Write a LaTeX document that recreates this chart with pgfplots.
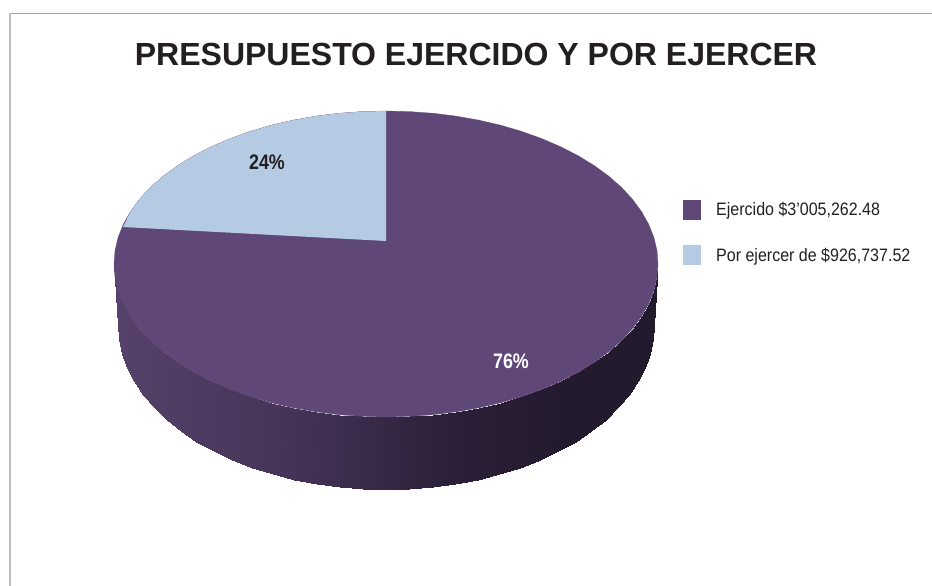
\documentclass[border=0pt]{standalone}
\usepackage{pgfplots}
\pgfplotsset{compat=1.18}
\usepackage{fontspec}
\setmainfont{Liberation Sans}
\definecolor{ejer}{RGB}{95,72,119}
\definecolor{porej}{RGB}{181,203,228}
\definecolor{ink}{RGB}{35,31,32}
\pgfplotstableread{
x y z
658 264 0
657 277.3 0
653.9 290.6 0
648.7 303.6 0
641.6 316.3 0
632.5 328.7 0
621.6 340.5 0
608.8 351.8 0
594.4 362.3 0
578.3 372.2 0
560.8 381.2 0
542 389.3 0
522 396.5 0
501 402.7 0
479 407.8 0
456.4 411.8 0
433.2 414.7 0
409.7 416.4 0
386 417 0
362.3 416.4 0
338.8 414.7 0
315.6 411.8 0
293 407.8 0
271 402.7 0
250 396.5 0
230 389.3 0
211.2 381.2 0
193.7 372.2 0
177.6 362.3 0
163.2 351.8 0
150.4 340.5 0
139.5 328.7 0
130.4 316.3 0
123.3 303.6 0
118.1 290.6 0
115 277.3 0
114 264 0
115 250.7 0
118.1 237.4 0
123.3 224.4 0
130.4 211.7 0
139.5 199.3 0
150.4 187.5 0
163.2 176.2 0
177.6 165.7 0
193.7 155.8 0
211.2 146.8 0
230 138.7 0
250 131.5 0
271 125.3 0
293 120.2 0
315.6 116.2 0
338.8 113.3 0
362.3 111.6 0
386 111 0
409.7 111.6 0
433.2 113.3 0
456.4 116.2 0
479 120.2 0
501 125.3 0
522 131.5 0
542 138.7 0
560.8 146.8 0
578.3 155.8 0
594.4 165.7 0
608.8 176.2 0
621.6 187.5 0
632.5 199.3 0
641.6 211.7 0
648.7 224.4 0
653.9 237.4 0
657 250.7 0
}\topface
\pgfplotstableread{
x y z
386 241 0
386 111 0
362.3 111.6 0
338.8 113.3 0
315.6 116.2 0
293 120.2 0
271 125.3 0
250 131.5 0
230 138.7 0
211.2 146.8 0
193.7 155.8 0
177.6 165.7 0
163.2 176.2 0
150.4 187.5 0
139.5 199.3 0
130.4 211.7 0
123 227 0
}\blueslice
\pgfplotstableread{
x y z
114 264 0
118 325 0
115 277.3 0
119 339.4 0
118.1 290.6 0
122.1 353.7 0
123.3 303.6 0
127.1 367.7 0
130.4 316.3 0
134.2 381.4 0
139.5 328.7 0
143.1 394.7 0
150.4 340.5 0
153.9 407.5 0
163.2 351.8 0
166.5 419.6 0
177.6 362.3 0
180.7 431.1 0
193.7 372.2 0
196.5 441.7 0
211.2 381.2 0
213.7 451.4 0
230 389.3 0
232.3 460.2 0
250 396.5 0
252 467.9 0
271 402.7 0
272.7 474.5 0
293 407.8 0
294.3 480 0
315.6 411.8 0
316.6 484.4 0
338.8 414.7 0
339.5 487.5 0
362.3 416.4 0
362.6 489.4 0
386 417 0
386 490 0
409.7 416.4 0
409.4 489.4 0
433.2 414.7 0
432.5 487.5 0
456.4 411.8 0
455.4 484.4 0
479 407.8 0
477.7 480 0
501 402.7 0
499.3 474.5 0
522 396.5 0
520 467.9 0
542 389.3 0
539.7 460.2 0
560.8 381.2 0
558.3 451.4 0
578.3 372.2 0
575.5 441.7 0
594.4 362.3 0
591.3 431.1 0
608.8 351.8 0
605.5 419.6 0
621.6 340.5 0
618.1 407.5 0
632.5 328.7 0
628.9 394.7 0
641.6 316.3 0
637.8 381.4 0
648.7 303.6 0
644.9 367.7 0
653.9 290.6 0
649.9 353.7 0
657 277.3 0
653 339.4 0
658 264 0
654 325 0
}\sidewall
\begin{document}
\begin{tikzpicture}
\begin{axis}[
  scale only axis, width=932pt, height=586pt,
  xmin=0, xmax=932, ymin=0, ymax=586, y dir=reverse,
  axis lines=none, clip=true, view={0}{90},
  colormap={side}{rgb255(0cm)=(86,66,106); rgb255(1.86cm)=(68,50,86); rgb255(3.36cm)=(44,32,56); rgb255(4.46cm)=(36,26,46); rgb255(5.44cm)=(36,26,46)},
  point meta min=114, point meta max=658,
]
\path (axis cs:0,0,0) (axis cs:932,586,0);
\addplot3[surf, shader=interp, mesh/rows=37, mesh/cols=2, mesh/ordering=x varies, point meta=x] table[x=x, y=y, z=z] {\sidewall};
\addplot3[fill=ejer, draw=ejer, line width=0.3pt] table[x=x, y=y, z=z] {\topface} -- cycle;
\addplot3[fill=porej, draw=none] table[x=x, y=y, z=z] {\blueslice} -- cycle;
\addplot3[fill=ejer, draw=none] coordinates {(683,200,0) (700.5,200,0) (700.5,220.5,0) (683,220.5,0)} -- cycle;
\addplot3[fill=porej, draw=none] coordinates {(683,245.5,0) (700.5,245.5,0) (700.5,265.5,0) (683,265.5,0)} -- cycle;
\addplot3[draw={rgb,255:red,160;green,160;blue,160}, line width=1.2pt] coordinates {(932,13.5,0) (10,13.5,0)};
\addplot3[draw={rgb,255:red,190;green,190;blue,190}, line width=1.6pt] coordinates {(10,13.5,0) (10,586,0)};
\node[anchor=base, text=ink, font=\fontsize{32}{32}\selectfont\bfseries] at (axis cs:476,66,0) {PRESUPUESTO EJERCIDO Y POR EJERCER};
\node[anchor=center, text=ink, font=\fontsize{21}{21}\selectfont\bfseries] at (axis cs:267,162,0) {\scalebox{0.85}[1]{24\%}};
\node[anchor=center, text=white, font=\fontsize{21}{21}\selectfont\bfseries] at (axis cs:511,361,0) {\scalebox{0.85}[1]{76\%}};
\node[anchor=base west, inner sep=0pt, text=ink, font=\fontsize{18}{18}\selectfont] at (axis cs:716,216,0) {\scalebox{0.89}[1]{Ejercido \$3’005,262.48}};
\node[anchor=base west, inner sep=0pt, text=ink, font=\fontsize{18}{18}\selectfont] at (axis cs:716,262,0) {\scalebox{0.89}[1]{Por ejercer de \$926,737.52}};
\end{axis}
\end{tikzpicture}
\end{document}
